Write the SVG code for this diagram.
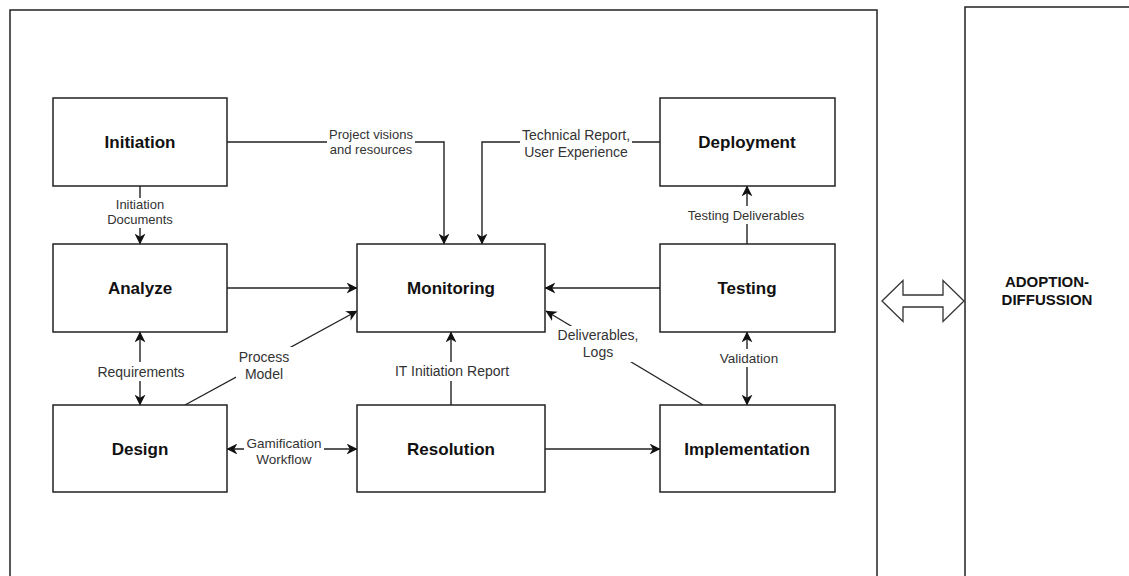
<svg xmlns="http://www.w3.org/2000/svg" width="1129" height="576" viewBox="0 0 1129 576">
<defs>
<style>
.frame{fill:#fff;stroke:#222;stroke-width:1.5}
.box{fill:#fff;stroke:#222;stroke-width:1.5}
.nl{font-family:"Liberation Sans",Arial,sans-serif;font-weight:bold;font-size:17px;fill:#111;text-anchor:middle}
.el{font-family:"Liberation Sans",Arial,sans-serif;font-size:13.5px;fill:#333;text-anchor:middle}
.ln{fill:none;stroke:#222;stroke-width:1.4}
.bg{fill:#fff}
</style>
<marker id="ah" viewBox="0 0 10 10" refX="9.5" refY="5" markerWidth="11" markerHeight="11" markerUnits="userSpaceOnUse" orient="auto-start-reverse">
<path d="M0,0 L10,5 L0,10 L3,5 z" fill="#111"/>
</marker>
</defs>
<rect width="1129" height="576" fill="#fff"/>
<g id="frame-left"><rect class="frame" x="10" y="10" width="867" height="580"/></g>
<g id="frame-right"><rect class="frame" x="965" y="7" width="180" height="583"/>
<text class="nl" style="font-size:15px" x="1047" y="287">ADOPTION-</text>
<text class="nl" style="font-size:15px" x="1047" y="305">DIFFUSSION</text>
</g>
<g id="double-arrow"><path d="M882,301 L903,280.5 L903,295 L943,295 L943,280.5 L964,301 L943,321.5 L943,307 L903,307 L903,321.5 Z" fill="#fff" stroke="#333" stroke-width="1.3"/></g>

<g id="connectors">
<line class="ln" x1="140" y1="186" x2="140" y2="244" marker-end="url(#ah)"/>
<rect class="bg" x="108" y="198" width="64" height="30"/>
<text class="el" x="140" y="209" style="font-size:13px">Initiation</text>
<text class="el" x="140" y="224" style="font-size:13px">Documents</text>
<polyline class="ln" points="227,142 444,142 444,244" marker-end="url(#ah)"/>
<rect class="bg" x="327" y="127" width="88" height="32"/>
<text class="el" x="371" y="139" style="font-size:13px">Project visions</text>
<text class="el" x="371" y="154" style="font-size:13px">and resources</text>
<polyline class="ln" points="660,142 482,142 482,244" marker-end="url(#ah)"/>
<rect class="bg" x="520" y="126" width="112" height="34"/>
<text class="el" x="576" y="140" style="font-size:14px">Technical Report,</text>
<text class="el" x="576" y="157" style="font-size:14px">User Experience</text>
<line class="ln" x1="227" y1="288" x2="357" y2="288" marker-end="url(#ah)"/>
<line class="ln" x1="660" y1="288" x2="545" y2="288" marker-end="url(#ah)"/>
<line class="ln" x1="747" y1="244" x2="747" y2="186" marker-end="url(#ah)"/>
<rect class="bg" x="688" y="206" width="116" height="18"/>
<text class="el" x="746" y="220" style="font-size:13px">Testing Deliverables</text>
<line class="ln" x1="140" y1="332" x2="140" y2="405" marker-start="url(#ah)" marker-end="url(#ah)"/>
<rect class="bg" x="96" y="362" width="90" height="19"/>
<text class="el" x="141" y="377" style="font-size:14px">Requirements</text>
<line class="ln" x1="185" y1="405" x2="357" y2="311" marker-end="url(#ah)"/>
<rect class="bg" x="236" y="347" width="56" height="36"/>
<text class="el" x="264" y="362" style="font-size:14px">Process</text>
<text class="el" x="264" y="379" style="font-size:14px">Model</text>
<line class="ln" x1="451" y1="405" x2="451" y2="332" marker-end="url(#ah)"/>
<rect class="bg" x="390" y="362" width="124" height="19"/>
<text class="el" x="452" y="376" style="font-size:14px">IT Initiation Report</text>
<line class="ln" x1="703" y1="405" x2="546" y2="311" marker-end="url(#ah)"/>
<rect class="bg" x="555" y="326" width="86" height="36"/>
<text class="el" x="598" y="340" style="font-size:14px">Deliverables,</text>
<text class="el" x="598" y="357" style="font-size:14px">Logs</text>
<line class="ln" x1="747" y1="332" x2="747" y2="405" marker-start="url(#ah)" marker-end="url(#ah)"/>
<rect class="bg" x="718" y="349" width="62" height="18"/>
<text class="el" x="749" y="363" style="font-size:13.5px">Validation</text>
<line class="ln" x1="227" y1="449" x2="357" y2="449" marker-start="url(#ah)" marker-end="url(#ah)"/>
<rect class="bg" x="244" y="436" width="80" height="32"/>
<text class="el" x="284" y="448" style="font-size:13.5px">Gamification</text>
<text class="el" x="284" y="464" style="font-size:13.5px">Workflow</text>
<line class="ln" x1="545" y1="449" x2="660" y2="449" marker-end="url(#ah)"/>
</g>

<g id="node-initiation"><rect class="box" x="53" y="98" width="174" height="88"/><text class="nl" x="140" y="148">Initiation</text></g>
<g id="node-analyze"><rect class="box" x="53" y="244" width="174" height="88"/><text class="nl" x="140" y="294">Analyze</text></g>
<g id="node-design"><rect class="box" x="53" y="405" width="174" height="87"/><text class="nl" x="140" y="455">Design</text></g>
<g id="node-monitoring"><rect class="box" x="357" y="244" width="188" height="88"/><text class="nl" x="451" y="294">Monitoring</text></g>
<g id="node-resolution"><rect class="box" x="357" y="405" width="188" height="87"/><text class="nl" x="451" y="455">Resolution</text></g>
<g id="node-deployment"><rect class="box" x="660" y="98" width="175" height="88"/><text class="nl" x="747" y="148">Deployment</text></g>
<g id="node-testing"><rect class="box" x="660" y="244" width="175" height="88"/><text class="nl" x="747" y="294">Testing</text></g>
<g id="node-implementation"><rect class="box" x="660" y="405" width="175" height="87"/><text class="nl" x="747" y="455">Implementation</text></g>
</svg>
